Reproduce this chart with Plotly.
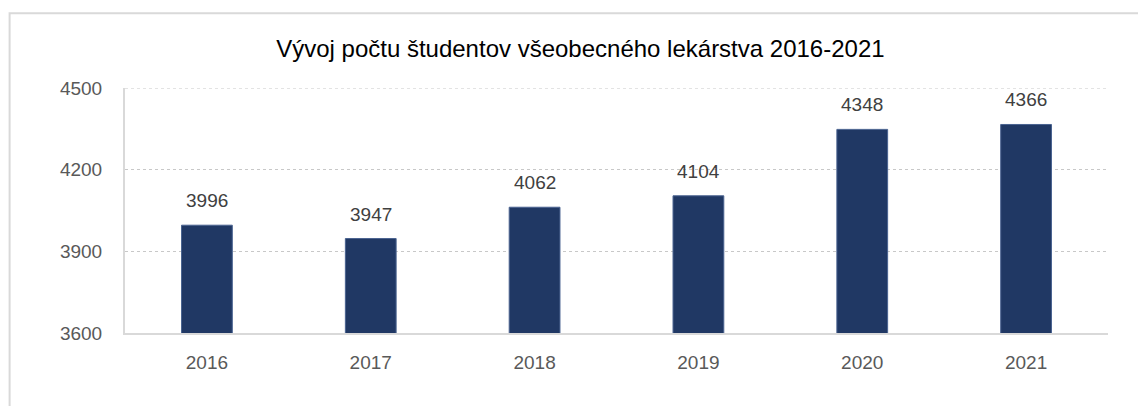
import plotly.graph_objects as go

# Study years and student counts
years = ["2016", "2017", "2018", "2019", "2020", "2021"]
students = [3996, 3947, 4062, 4104, 4348, 4366]
y_ticks = [3600, 3900, 4200, 4500]

FONT = "Liberation Sans Narrow, Arial Narrow, Liberation Sans, Arial, sans-serif"
BAR = "#203864"
GRID = "#c8c8c8"

fig = go.Figure()
fig.add_trace(go.Bar(
    x=years,
    y=students,
    width=0.31,
    marker=dict(color=BAR, line=dict(color="#4a6390", width=1)),
    hoverinfo="x+y",
))

# value labels above the bars (category index positions)
for i, v in enumerate(students):
    fig.add_annotation(
        x=i, y=v, text=str(v), showarrow=False,
        yanchor="bottom", yshift=12,
        font=dict(family=FONT, size=19, color="#404040"),
    )

# top gridline sits on the range edge, so draw it explicitly
fig.add_shape(
    type="line", xref="paper", yref="y",
    x0=0, x1=1, y0=y_ticks[-1], y1=y_ticks[-1],
    line=dict(color=GRID, width=1, dash="dot"), layer="below",
)

# outer frame (open towards the right and bottom page edges)
fig.add_shape(
    type="rect", xref="paper", yref="paper",
    x0=-0.1174, x1=1.2, y0=-0.5, y1=1.3055,
    line=dict(color="#d9d9d9", width=2), layer="below",
)

fig.update_layout(
    width=1138, height=406,
    margin=dict(l=125, r=30, t=88, b=73),
    paper_bgcolor="white", plot_bgcolor="white",
    showlegend=False,
    title=dict(
        text="Vývoj počtu študentov všeobecného lekárstva 2016-2021",
        x=0.51, xanchor="center", xref="container",
        y=0.88, yanchor="middle",
        font=dict(family=FONT, size=24, color="#000000"),
    ),
    font=dict(family=FONT),
)

fig.update_xaxes(
    type="category",
    range=[-0.5, len(years) - 0.5],
    showgrid=False,
    showline=True, linecolor="#d9d9d9", linewidth=2,
    ticks="", ticklabelstandoff=11,
    tickfont=dict(family=FONT, size=19, color="#595959"),
)
fig.update_yaxes(
    range=[3600, 4500],
    tickvals=y_ticks,
    showgrid=True, gridcolor=GRID, griddash="dot", gridwidth=1,
    showline=True, linecolor="#d9d9d9", linewidth=2,
    zeroline=False,
    ticks="", ticklabelstandoff=17,
    tickfont=dict(family=FONT, size=19, color="#595959"),
)

fig.write_html("out.html")
